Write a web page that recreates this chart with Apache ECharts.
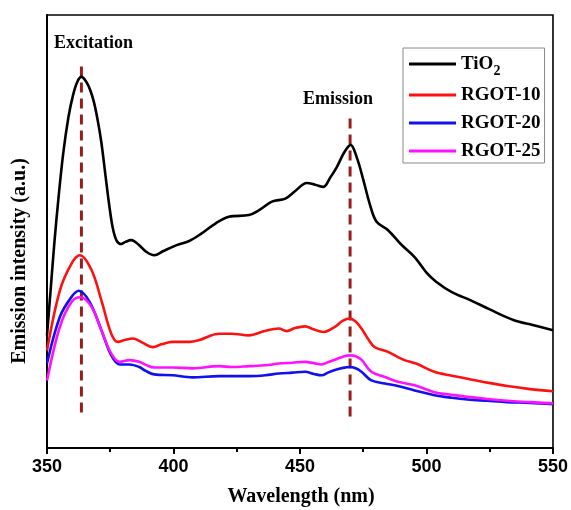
<!DOCTYPE html>
<html lang="en">
<head>
  <meta charset="UTF-8">
  <title>Emission spectra</title>
  <script src="https://cdn.jsdelivr.net/npm/echarts@6/dist/echarts.min.js"></script>
  <style>
    html, body { margin: 0; padding: 0; background: #fff; }
    #main { width: 571px; height: 510px; }
  </style>
</head>
<body>
<div id="main"></div>
<script>
  // wavelength (nm) and relative intensity (a.u., 0-100 scale)
  var tio2 = [
    [350, 26], [351.5, 37], [353, 48], [354.5, 57.5], [356.4, 68], [358.5, 76.5],
    [360.3, 81.5], [362, 84.6], [363.6, 85.7], [365.5, 84.6], [367, 82.8], [368.5, 80.0],
    [370, 75.8], [371.5, 70.5], [373, 63.5], [374.5, 56.5], [376, 50.8], [377.5, 47.9],
    [379.3, 47.1], [381, 47.6], [383.3, 48.0], [386.5, 46.8], [389, 45.4], [392.4, 44.5],
    [396, 45.5], [401, 46.8], [406.2, 47.8], [411, 49.5], [416.7, 51.9], [421.9, 53.4],
    [429.8, 53.8], [434, 55.0], [438.9, 56.9], [444.2, 57.6], [448, 59.3], [452.7, 61.2],
    [456, 60.8], [459.2, 60.3], [462, 62.5], [464.5, 64.8], [467.5, 68.3], [470, 70.0],
    [472.5, 67.0], [475, 62.0], [477.5, 56.5], [480.2, 52.3], [484.8, 50.3], [490, 47.0],
    [495.3, 44.1], [500, 40.5], [503.8, 38.4], [510, 36.0], [517.5, 34.1], [525, 32.0],
    [534.6, 29.5], [542, 28.4], [550, 27.2]
  ];
  var rgot10 = [
    [350, 22.5], [355.1, 36.4], [359.7, 42.6], [363, 44.5], [367.6, 41.1], [371.5, 34.1],
    [375.4, 26.4], [378, 24.5], [381, 25.0], [383.9, 25.3], [387.5, 24.4], [391.8, 23.3],
    [395.5, 24.0], [399.6, 24.5], [406.2, 24.5], [410, 24.9], [418, 26.4], [423, 26.4],
    [429.8, 26.0], [436, 27.0], [441.6, 27.6], [444.8, 27.0], [448, 27.7], [452, 28.1],
    [455, 27.5], [459.2, 26.8], [463.8, 28.0], [467, 29.4], [469.7, 29.9], [472, 29.2],
    [474.3, 27.6], [477, 25.1], [479.5, 23.3], [484.8, 22.2], [488.7, 21.0], [491.3, 20.3],
    [495.9, 19.5], [503.1, 17.6], [510, 16.7], [516.2, 16.0], [524, 15.1], [531.9, 14.3],
    [541, 13.6], [550, 13.1]
  ];
  var rgot20 = [
    [350, 19.5], [355.1, 30.3], [359.7, 34.9], [362.6, 36.3], [366.9, 33.7], [371.5, 27.2],
    [375.4, 21.4], [378.7, 19.3], [382.6, 19.3], [386.5, 18.7], [389, 17.8], [392.4, 17.0],
    [399.6, 16.8], [407.5, 16.3], [418, 16.6], [423.2, 16.6], [430, 16.6], [436.3, 16.8],
    [441.6, 17.2], [447, 17.4], [452, 17.6], [455.5, 17.1], [458.6, 16.8], [461, 17.4],
    [463.8, 18.0], [467, 18.5], [469.7, 18.7], [472, 18.4], [474.3, 17.6], [478.2, 15.6],
    [483.5, 14.9], [488.7, 14.3], [495.3, 13.3], [503.1, 12.2], [510, 11.6], [516.2, 11.2],
    [524, 10.9], [531.9, 10.6], [541, 10.4], [550, 10.1]
  ];
  var rgot25 = [
    [350, 15.6], [355.1, 28.0], [359.7, 33.7], [363.2, 34.8], [367.6, 32.6], [371.5, 27.2],
    [375.4, 21.8], [378.7, 19.9], [382.6, 20.3], [386.5, 19.9], [389, 19.2], [392.4, 18.6],
    [399.6, 18.6], [407.5, 18.4], [418, 18.9], [423.2, 18.7], [430, 18.9], [436.3, 19.1],
    [441.6, 19.5], [447, 19.7], [452, 19.9], [455.5, 19.6], [458.6, 19.3], [461, 19.8],
    [463.8, 20.4], [467, 21.1], [469.7, 21.4], [472, 21.2], [474.3, 20.4], [478.2, 17.6],
    [483.5, 16.4], [488.7, 15.3], [495.3, 14.5], [503.1, 12.9], [510, 12.3], [516.2, 11.8],
    [524, 11.3], [531.9, 10.9], [541, 10.6], [550, 10.3]
  ];
  // guide lines at the excitation / emission maxima
  var excitationLine = [[363.6, 8.2], [363.6, 89.3]];
  var emissionLine = [[469.8, 7.3], [469.8, 76.9]];

  var seriesNames = ['TiO2', 'RGOT-10', 'RGOT-20', 'RGOT-25'];
  var seriesColors = ['#000000', '#ff1010', '#1010f0', '#ff10ff'];
  var xTicks = [350, 400, 450, 500, 550];

  var serif = '"Liberation Serif", "DejaVu Serif", serif';
  var sans = '"Liberation Sans", Arial, sans-serif';

  var myChart = echarts.init(document.getElementById('main'));

  function spectrum(name, data, color) {
    return {
      name: name,
      type: 'line',
      data: data,
      smooth: 0.35,
      showSymbol: false,
      symbol: 'none',
      z: 3,
      lineStyle: { color: color, width: 2.6 },
      itemStyle: { color: color }
    };
  }

  function guide(data) {
    return {
      type: 'line',
      data: data,
      showSymbol: false,
      symbol: 'none',
      silent: true,
      z: 2,
      lineStyle: { color: '#9a1c1c', width: 3, type: [10, 6] }
    };
  }

  var option = {
    animation: false,
    backgroundColor: '#fff',
    grid: {
      left: 47, right: 15, top: 15, bottom: 62,
      show: true, borderColor: '#000', borderWidth: 1.6
    },
    legend: {
      data: seriesNames,
      orient: 'vertical',
      left: 403,
      top: 48,
      padding: [2, 4, 1, 6],
      itemGap: 6,
      itemWidth: 47,
      itemHeight: 3,
      icon: 'rect',
      borderColor: '#8a8a8a',
      borderWidth: 1,
      formatter: function(name) {
        return name === 'TiO2' ? 'TiO{sub|2}' : name;
      },
      textStyle: {
        color: '#000',
        fontFamily: serif,
        fontWeight: 'bold',
        fontSize: 19,
        lineHeight: 22,
        rich: {
          sub: {
            fontFamily: serif,
            fontWeight: 'bold',
            fontSize: 14,
            lineHeight: 28,
            verticalAlign: 'bottom'
          }
        }
      }
    },
    xAxis: {
      type: 'value',
      min: xTicks[0],
      max: xTicks[xTicks.length - 1],
      interval: 50,
      axisLine: { show: true, lineStyle: { color: '#000', width: 2 } },
      axisTick: { show: true, length: 6, lineStyle: { color: '#000', width: 2 } },
      minorTick: { show: true, splitNumber: 2, length: 4, lineStyle: { color: '#000', width: 2 } },
      splitLine: { show: false },
      axisLabel: {
        color: '#000', fontFamily: sans, fontWeight: 'bold', fontSize: 18, margin: 10
      }
    },
    yAxis: {
      type: 'value',
      min: 0,
      max: 100,
      axisLine: { show: true, lineStyle: { color: '#000', width: 2 } },
      axisTick: { show: false },
      axisLabel: { show: false },
      splitLine: { show: false }
    },
    graphic: [
      {
        type: 'text', left: 54, top: 34,
        style: { text: 'Excitation', font: 'bold 18px ' + serif, fill: '#000' }
      },
      {
        type: 'text', left: 303, top: 90,
        style: { text: 'Emission', font: 'bold 18px ' + serif, fill: '#000' }
      },
      {
        type: 'text', x: 20, y: 261, rotation: Math.PI / 2,
        style: {
          text: 'Emission intensity (a.u.)', font: 'bold 20px ' + serif, fill: '#000',
          align: 'center', verticalAlign: 'middle'
        }
      },
      {
        type: 'text', x: 301, y: 497,
        style: {
          text: 'Wavelength (nm)', font: 'bold 20px ' + serif, fill: '#000',
          align: 'center', verticalAlign: 'middle'
        }
      }
    ],
    series: [
      guide(excitationLine),
      guide(emissionLine),
      spectrum(seriesNames[0], tio2, seriesColors[0]),
      spectrum(seriesNames[1], rgot10, seriesColors[1]),
      spectrum(seriesNames[2], rgot20, seriesColors[2]),
      spectrum(seriesNames[3], rgot25, seriesColors[3])
    ]
  };

  myChart.setOption(option);
  window.addEventListener('resize', function() {
    myChart.resize();
  });
</script>
</body>
</html>
